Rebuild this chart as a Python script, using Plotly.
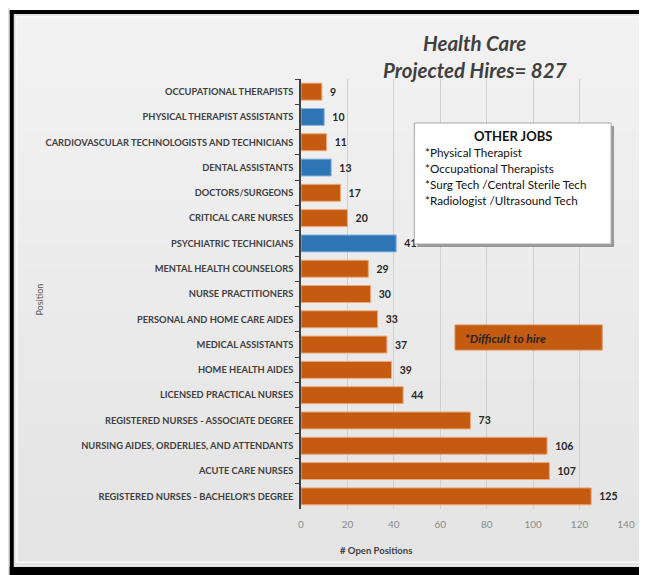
import plotly.graph_objects as go

positions = [
    "OCCUPATIONAL THERAPISTS",
    "PHYSICAL THERAPIST ASSISTANTS",
    "CARDIOVASCULAR TECHNOLOGISTS AND TECHNICIANS",
    "DENTAL ASSISTANTS",
    "DOCTORS/SURGEONS",
    "CRITICAL CARE NURSES",
    "PSYCHIATRIC TECHNICIANS",
    "MENTAL HEALTH COUNSELORS",
    "NURSE PRACTITIONERS",
    "PERSONAL AND HOME CARE AIDES",
    "MEDICAL ASSISTANTS",
    "HOME HEALTH AIDES",
    "LICENSED PRACTICAL NURSES",
    "REGISTERED NURSES - ASSOCIATE DEGREE",
    "NURSING AIDES, ORDERLIES, AND ATTENDANTS",
    "ACUTE CARE NURSES",
    "REGISTERED NURSES - BACHELOR'S DEGREE",
]
open_positions = [9, 10, 11, 13, 17, 20, 41, 29, 30, 33, 37, 39, 44, 73, 106, 107, 125]
difficult_to_hire = [True, False, True, False, True, True, False, True, True, True,
                     True, True, True, True, True, True, True]
x_ticks = [0, 20, 40, 60, 80, 100, 120, 140]
other_jobs = ["*Physical Therapist", "*Occupational Therapists",
              "*Surg Tech /Central Sterile Tech", "*Radiologist /Ultrasound Tech"]

ORANGE = "#C55A11"
BLUE = "#2E75B6"
colors = [ORANGE if d else BLUE for d in difficult_to_hire]
line_colors = ["#EDA978" if d else "#8DB6DE" for d in difficult_to_hire]

# page has an 8px body margin; figure occupies screen x 8..647, y 8..575
OFF = 8
W, H = 647 - OFF, 575 - OFF
L, T = 301 - OFF, 79 - OFF
R = W - (628 - OFF)
B = H - (509 - OFF)
PW, PH = W - L - R, H - T - B


def px(x):
    x = min(max(x, OFF), OFF + W)
    return (x - OFF - L) / PW


def py(y):
    y = min(max(y, OFF), OFF + H)
    return 1 - (y - OFF - T) / PH


def rect(x0, x1, y0, y1, fill, layer="below", line=None):
    return dict(type="rect", xref="paper", yref="paper", x0=px(x0), x1=px(x1), y0=py(y0), y1=py(y1),
                fillcolor=fill, line=line or dict(width=0), layer=layer)


FONT = "Lato"
NB = "\u00a0\u00a0"

fig = go.Figure()
fig.add_trace(go.Bar(
    y=positions, x=open_positions, orientation="h",
    marker=dict(color=colors, line=dict(color=line_colors, width=1)),
    text=[NB + str(v) for v in open_positions], textposition="outside",
    textfont=dict(family=FONT, size=10.5, color="#262626", weight="bold"),
    cliponaxis=False, hoverinfo="skip",
))

shapes = [
    rect(8, 647, 8, 10, "white"),
    rect(8, 647, 10, 14, "black"),
    rect(8, 12, 10, 575, "black"),
    rect(8, 647, 567, 575, "black"),
    rect(14, 645, 16, 563, "#F8F8F8"),
]
N = 24
top_c, bot_c = 242, 228
for i in range(N):
    y0 = 18 + (561 - 18) * i / N
    y1 = 18 + (561 - 18) * (i + 1) / N + 0.5
    g = round(top_c + (bot_c - top_c) * i / (N - 1))
    shapes.append(rect(16, 643, y0, y1, f"rgb({g},{g},{g})"))

shapes += [
    rect(418, 616, 126, 247, "#9A9A9A", layer="above"),
    rect(415, 613, 123, 244, "white", layer="above", line=dict(color="#A6A6A6", width=1)),
    rect(456, 604, 325, 350, ORANGE, layer="above", line=dict(color="#D9864E", width=1)),
]

annotations = [
    dict(text="<b><i>Health Care</i></b>", xref="paper", yref="paper", x=px(476), y=py(43),
         showarrow=False, font=dict(family=FONT, size=20.5, color="#404040"), xanchor="center", yanchor="middle"),
    dict(text="<b><i>Projected Hires= 827</i></b>", xref="paper", yref="paper", x=px(476), y=py(70),
         showarrow=False, font=dict(family=FONT, size=20.5, color="#404040"), xanchor="center", yanchor="middle"),
    dict(text="<b>OTHER JOBS</b>", xref="paper", yref="paper", x=px(514), y=py(136),
         showarrow=False, font=dict(family=FONT, size=13, color="#111111"), xanchor="center", yanchor="middle"),
    dict(text="<b><i>*Difficult to hire</i></b>", xref="paper", yref="paper", x=px(464), y=py(338),
         showarrow=False, font=dict(family=FONT, size=12, color="#262626"), xanchor="left", yanchor="middle"),
    dict(text="Position", xref="paper", yref="paper", x=px(37), y=py(300), textangle=-90,
         showarrow=False, font=dict(family=FONT, size=9, color="#595959"), xanchor="center", yanchor="middle"),
    dict(text="<b># Open Positions</b>", xref="paper", yref="paper", x=px(376), y=py(550),
         showarrow=False, font=dict(family=FONT, size=9.5, color="#404040"), xanchor="center", yanchor="middle"),
]
for i, line in enumerate(other_jobs):
    annotations.append(dict(text=line, xref="paper", yref="paper", x=px(424), y=py(152 + 16 * i),
                            showarrow=False, font=dict(family=FONT, size=11.7, color="#111111"),
                            xanchor="left", yanchor="middle"))

fig.update_layout(
    width=W, height=H,
    margin=dict(l=L, r=R, t=T, b=B, pad=0),
    paper_bgcolor="#E4E4E4", plot_bgcolor="rgba(0,0,0,0)",
    showlegend=False, bargap=0.33,
    shapes=shapes, annotations=annotations,
    xaxis=dict(range=[0, 140], tickvals=x_ticks, showgrid=True, gridcolor="#D0D0D0", gridwidth=1,
               zeroline=False, showline=False, ticks="", ticklabelstandoff=8,
               tickfont=dict(family=FONT, size=10, color="#8A8A8A")),
    yaxis=dict(autorange="reversed", showline=True, linecolor="#404040", linewidth=1.5,
               ticks="outside", tickson="boundaries", ticklen=4, tickcolor="#404040",
               ticklabelstandoff=4,
               showgrid=False, zeroline=False,
               tickfont=dict(family=FONT, size=9.3, color="#404040", weight="bold")),
)

fig.write_html("out.html")
